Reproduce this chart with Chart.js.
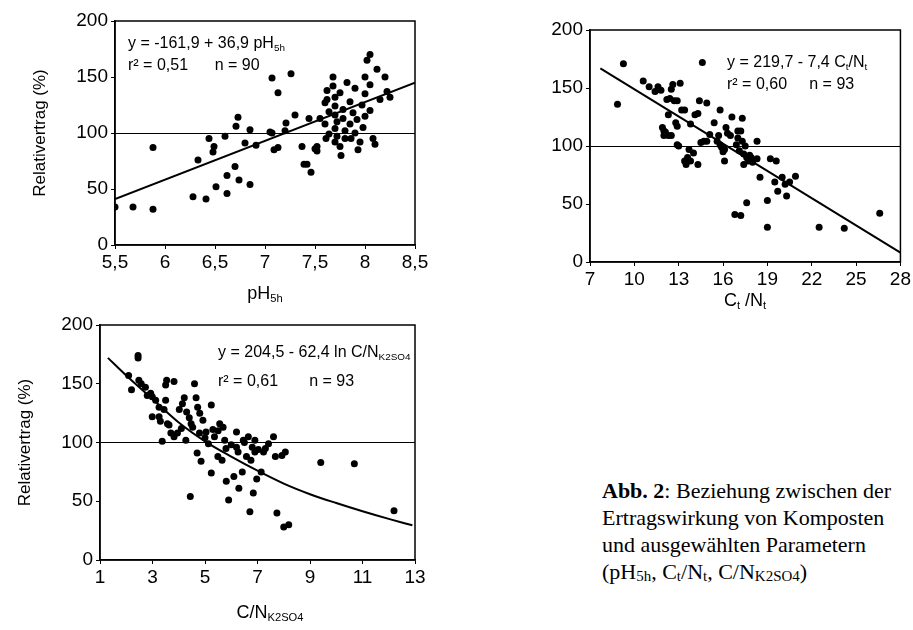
<!DOCTYPE html>
<html>
<head>
<meta charset="utf-8">
<script src="https://cdn.jsdelivr.net/npm/chart.js@4.4.1/dist/chart.umd.min.js"></script>
<style>
  body{margin:0;background:#fff;width:913px;height:630px;position:relative;overflow:hidden;
       font-family:"Liberation Sans",Arial,sans-serif;color:#000}
  canvas{position:absolute}
  .t{position:absolute;white-space:nowrap;font-size:16px;line-height:22px}
  .t sub{font-size:0.62em;vertical-align:-0.3em;line-height:0}
  .xt{position:absolute;white-space:nowrap;font-size:18px;transform:translate(-50%,-50%)}
  .xt sub{font-size:0.62em;vertical-align:-0.3em;line-height:0}
  .cap{position:absolute;left:602px;top:477px;font-family:"Liberation Serif","Times New Roman",serif;
       font-size:22px;line-height:27px;white-space:nowrap}
  .cap sub{font-size:0.68em;vertical-align:-0.15em;line-height:0}
</style>
</head>
<body>
<canvas id="c1" width="440" height="285" style="left:0;top:0"></canvas>
<canvas id="c2" width="473" height="320" style="left:440px;top:0"></canvas>
<canvas id="c3" width="440" height="330" style="left:0;top:300px"></canvas>

<div class="t" style="left:128px;top:32px">y = -161,9 + 36,9 pH<sub>5h</sub><br>r² = 0,51&nbsp;&nbsp;&nbsp;&nbsp;&nbsp;&nbsp;n = 90</div>
<div class="t" style="left:727px;top:51px">y = 219,7 - 7,4 C<sub>t</sub>/N<sub>t</sub><br>r² = 0,60&nbsp;&nbsp;&nbsp;&nbsp;&nbsp;n = 93</div>
<div class="t" style="left:218px;top:337px;line-height:29px">y = 204,5 - 62,4 ln C/N<sub>K2SO4</sub><br>r² = 0,61&nbsp;&nbsp;&nbsp;&nbsp;&nbsp;&nbsp;&nbsp;n = 93</div>

<div class="xt" style="left:265px;top:293px">pH<sub>5h</sub></div>
<div class="xt" style="left:745px;top:300px">C<sub>t</sub> /N<sub>t</sub></div>
<div class="xt" style="left:270px;top:612px">C/N<sub>K2SO4</sub></div>

<div class="cap"><b>Abb. 2</b>: Beziehung zwischen der<br>Ertragswirkung von Komposten<br>und ausgewählten Parametern<br>(pH<sub>5h</sub>, C<sub>t</sub>/N<sub>t</sub>, C/N<sub>K2SO4</sub>)</div>

<script>
// y axis (all three panels)
var yTicks = [0, 50, 100, 150, 200];
var yLabels = ['0', '50', '100', '150', '200'];

// panel 1: pH5h
var phTicks = [5.5, 6, 6.5, 7, 7.5, 8, 8.5];
var phLabels = ['5,5', '6', '6,5', '7', '7,5', '8', '8,5'];
var phX = [5.5, 5.68, 5.88, 5.88, 6.28, 6.33, 6.41, 6.44, 6.49, 6.48, 6.51, 6.6, 6.62, 6.62, 6.7, 6.71, 6.73, 6.74,
  6.8, 6.85, 6.85, 6.91, 7.05, 7.07, 7.07, 7.09, 7.13, 7.13, 7.2, 7.21, 7.26, 7.3, 7.37, 7.39, 7.42, 7.46, 7.44, 7.5,
  7.52, 7.55, 7.62, 7.6, 7.62, 7.64, 7.6, 7.61, 7.64, 7.52,
  7.68, 7.68, 7.7, 7.7, 7.7, 7.72, 7.7, 7.72, 7.7, 7.75, 7.75, 7.78, 7.78, 7.8, 7.8, 7.82, 7.85, 7.85, 7.88, 7.9,
  7.9, 7.92, 7.95, 7.97, 8.0, 8.0, 8.02, 8.05, 8.05, 8.05, 8.08, 8.1, 8.12, 8.15, 8.2, 8.22, 8.25, 7.98, 7.93, 7.76,
  8.0, 7.86];
var phY = [34, 34, 32, 87, 43, 76, 41, 95, 88, 83, 52, 97, 62, 46, 70, 106, 114, 58,
  91, 103, 54, 89, 101, 100, 149, 85, 87, 136, 102, 109, 153, 116, 88, 72, 72, 65, 113, 86,
  88, 113, 138, 127, 130, 119, 108, 95, 99, 84,
  150, 142, 132, 124, 116, 110, 104, 97, 92, 88, 136, 121, 113, 102, 95, 145, 128, 108, 118, 100,
  140, 112, 92, 125, 150, 135, 165, 170, 143, 120, 95, 90, 157, 130, 150, 137, 132, 105, 85, 80,
  115, 95];
var phFitX = [5.5, 8.5];
var phFitY = [41, 145];

// panel 2: Ct/Nt
var ctTicks = [7, 10, 13, 16, 19, 22, 25, 28];
var ctLabels = ['7', '10', '13', '16', '19', '22', '25', '28'];
var ctX = [8.86, 9.26, 10.6, 11.0, 11.4, 11.6, 11.9, 12.0, 12.0, 12.3, 12.5, 12.2, 12.3, 12.5, 12.6, 12.7, 12.8,
  12.9, 12.9, 13.1, 12.9, 13.2, 13.4, 13.7, 13.4, 13.6, 13.8, 13.8, 14.0, 14.1, 14.3, 14.3, 14.4, 14.6, 14.9, 14.7,
  14.9, 15.1, 15.4, 15.6, 15.8, 15.7, 15.8, 15.9, 16.1, 16.1, 16.2, 16.3, 16.5, 16.6, 16.8, 17.0, 17.0, 17.2, 17.2,
  17.3, 17.3, 17.4, 17.4, 17.5, 17.6, 17.6, 17.7, 17.9, 18.3, 18.5, 18.3, 19.0, 19.0, 19.2, 19.6, 19.5, 19.7, 20.0,
  20.2, 20.3, 20.5, 20.9, 22.5, 24.2, 26.6,
  12.1, 13.0, 16.0, 17.1, 17.8, 13.5, 12.4, 11.8, 18.0, 16.9, 14.5];
var ctY = [136, 171, 156, 151, 147, 151, 116, 113, 109, 109, 109, 140, 127, 149, 153, 139, 120,
  117, 139, 154, 101, 131, 131, 97, 87, 90, 119, 87, 94, 127, 84, 128, 139, 172, 137, 104,
  104, 110, 120, 104, 131, 109, 101, 99, 97, 87, 116, 111, 109, 125, 41, 113, 107, 40, 113,
  124, 104, 93, 84, 100, 51, 90, 87, 90, 104, 73, 89, 53, 30, 89, 87, 69, 61, 73,
  67, 57, 69, 74, 30, 29, 42,
  112, 100, 95, 96, 92, 84, 141, 148, 86, 101, 103];
var ctFitX = [7.7, 28];
var ctFitY = [167, 8];

// panel 3: C/NK2SO4
var cnTicks = [1, 3, 5, 7, 9, 11, 13];
var cnLabels = ['1', '3', '5', '7', '9', '11', '13'];
var cnX = [2.09, 2.45, 2.45, 2.48, 2.57, 2.73, 2.8, 2.93, 2.99, 3.12, 2.99, 3.25, 3.25, 3.37, 3.44, 3.5, 3.54, 3.5,
  3.57, 3.63, 3.82, 3.82, 3.95, 4.02, 4.14, 4.21, 4.27, 4.4, 4.44, 4.47, 4.53, 4.6, 4.66, 4.7, 4.72, 4.79, 4.85,
  4.92, 5.04, 5.13, 5.24, 5.24, 5.3, 5.36, 5.49, 5.56, 5.69, 5.65, 5.75, 5.81, 5.9, 6.1, 6.2, 6.2, 6.26, 6.29,
  6.42, 6.46, 6.58, 6.65, 6.71, 6.75, 6.8, 6.84, 6.9, 6.97, 7.03, 7.14, 7.23, 7.42, 7.61, 7.68, 7.74, 7.93, 8.0,
  8.19, 8.06, 9.41, 10.69, 12.2,
  3.3, 4.3, 5.0, 5.5, 6.0, 6.5, 4.8, 3.7, 5.8, 6.9, 2.2, 7.3, 4.1];
var cnY = [157, 174, 172, 153, 150, 147, 140, 142, 139, 136, 122, 122, 130, 101, 128, 136, 153, 149,
  116, 115, 152, 105, 108, 128, 133, 138, 102, 121, 54, 116, 113, 150, 138, 91, 130, 108, 84,
  119, 109, 99, 132, 74, 111, 105, 88, 116, 113, 85, 102, 67, 51, 71, 109, 96, 92, 61,
  75, 102, 88, 105, 41, 85, 96, 57, 102, 69, 94, 75, 92, 99, 105, 88, 40, 89, 28,
  30, 92, 83, 82, 42,
  118, 126, 104, 110, 98, 100, 125, 108, 95, 92, 145, 95, 112];
var cnFitX = [1.3, 2, 3, 4, 5, 6, 7, 8, 9, 10, 11, 12, 12.9];
var cnFitY = [172, 157, 137, 117, 101, 88, 76, 65, 56, 48.5, 41.5, 35, 29.5];

var boxPlugin = {
  id: 'box',
  afterDraw: function (chart) {
    var a = chart.chartArea, c = chart.ctx;
    c.save();
    c.strokeStyle = '#000';
    c.lineWidth = 1.5;
    c.strokeRect(a.left, a.top, a.right - a.left, a.bottom - a.top);
    c.restore();
  }
};

function pairs(xs, ys) {
  return xs.map(function (x, i) { return {x: x, y: ys[i]}; });
}

function makeChart(id, xs, ys, fx, fy, xt, xl, xmin, xmax, opt) {
  return new Chart(document.getElementById(id), {
    data: {
      datasets: [
        {type: 'scatter', data: pairs(xs, ys), pointRadius: 3.5, pointBackgroundColor: '#000',
         pointBorderWidth: 0, order: 2},
        {type: 'line', data: pairs(fx, fy), borderColor: '#000', borderWidth: 2, pointRadius: 0,
         cubicInterpolationMode: 'monotone', fill: false, order: 1}
      ]
    },
    options: {
      responsive: false,
      animation: false,
      events: [],
      layout: {padding: opt.pad},
      plugins: {legend: {display: false}, tooltip: {enabled: false}},
      scales: {
        x: {
          type: 'linear', min: xmin, max: xmax,
          afterBuildTicks: function (ax) { ax.ticks = xt.map(function (v) { return {value: v}; }); },
          afterFit: function (s) { s.height = 26; },
          ticks: {callback: function (v, i) { return xl[i]; }, color: '#000', autoSkip: false, maxRotation: 0,
                  padding: 2, font: {family: 'Liberation Sans', size: 19}},
          grid: {drawOnChartArea: false, tickLength: 4, color: '#000'},
          border: {color: '#000', width: 1.5}
        },
        y: {
          min: 0, max: 200,
          afterBuildTicks: function (ax) { ax.ticks = yTicks.map(function (v) { return {value: v}; }); },
          afterFit: function (s) { s.width = opt.yw; },
          ticks: {callback: function (v, i) { return yLabels[i]; }, color: '#000', padding: 3,
                  font: {family: 'Liberation Sans', size: 19}},
          grid: {
            color: function (ctx) { return ctx.tick && ctx.tick.value === 100 ? '#000' : 'rgba(0,0,0,0)'; },
            tickColor: '#000', tickLength: 4, lineWidth: 1
          },
          border: {color: '#000', width: 1.5},
          title: {display: opt.ytitle, text: 'Relativertrag (%)', color: '#000', padding: 0,
                  font: {family: 'Liberation Sans', size: 17}}
        }
      }
    },
    plugins: [boxPlugin]
  });
}

makeChart('c1', phX, phY, phFitX, phFitY, phTicks, phLabels, 5.5, 8.5,
  {pad: {left: 30, top: 21, right: 25, bottom: 14}, yw: 85, ytitle: true});
makeChart('c2', ctX, ctY, ctFitX, ctFitY, ctTicks, ctLabels, 7, 28,
  {pad: {left: 90, top: 30, right: 11, bottom: 32}, yw: 60, ytitle: false});
makeChart('c3', cnX, cnY, cnFitX, cnFitY, cnTicks, cnLabels, 1, 13,
  {pad: {left: 15, top: 25, right: 25, bottom: 44}, yw: 85, ytitle: true});
</script>
</body>
</html>
